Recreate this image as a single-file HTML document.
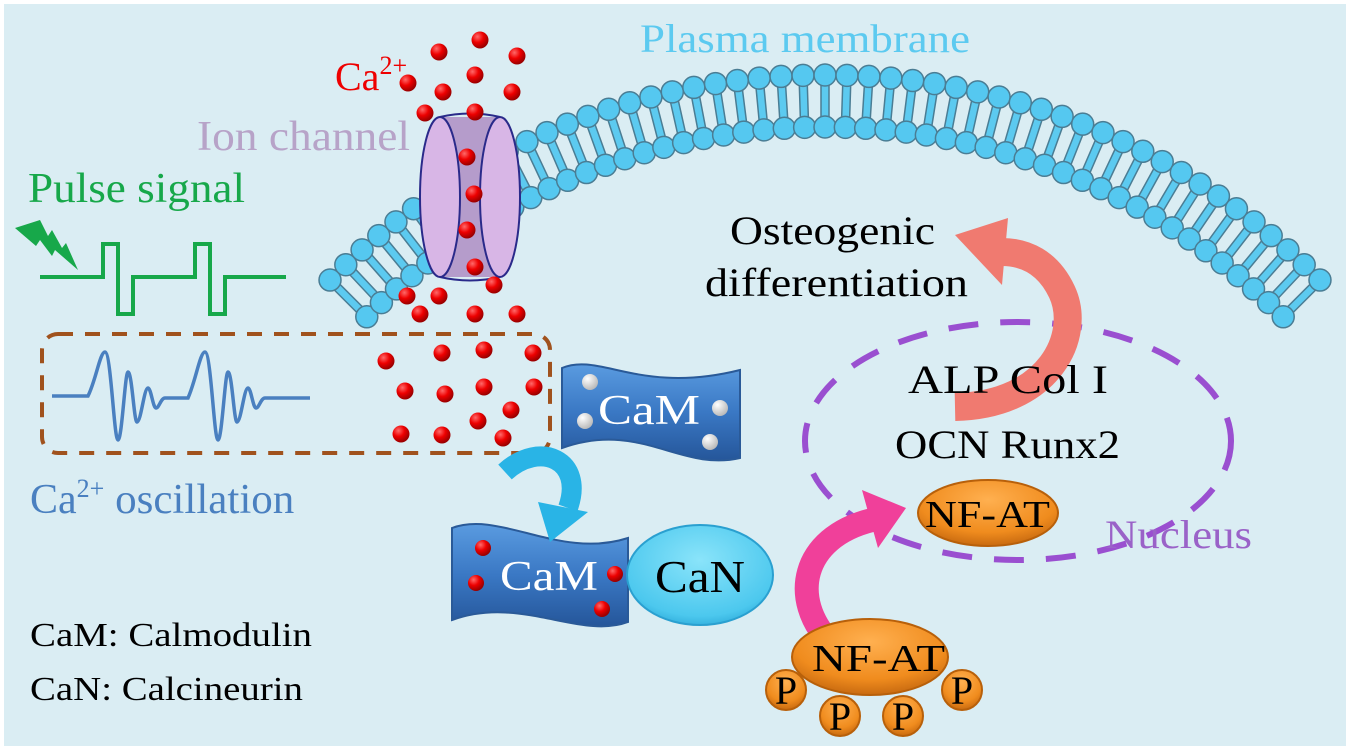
<!DOCTYPE html>
<html><head><meta charset="utf-8"><style>
html,body{margin:0;padding:0;background:#fff;}
svg{display:block;}
text{font-family:"Liberation Serif",serif;}
</style></head><body>
<svg id="s" width="1350" height="751" viewBox="0 0 1350 751" xmlns="http://www.w3.org/2000/svg">
<defs>
<radialGradient id="rd" cx="0.35" cy="0.3" r="0.7"><stop offset="0" stop-color="#ff6a6a"/><stop offset="0.5" stop-color="#e00"/><stop offset="1" stop-color="#900"/></radialGradient>
<radialGradient id="wd" cx="0.35" cy="0.3" r="0.7"><stop offset="0" stop-color="#fff"/><stop offset="1" stop-color="#bbb"/></radialGradient>
<radialGradient id="og" cx="0.5" cy="0.3" r="0.7"><stop offset="0" stop-color="#ffb050"/><stop offset="0.7" stop-color="#f08c1e"/><stop offset="1" stop-color="#c86a10"/></radialGradient>
<radialGradient id="cn" cx="0.5" cy="0.35" r="0.7"><stop offset="0" stop-color="#8ae4fa"/><stop offset="0.8" stop-color="#4cc8ee"/><stop offset="1" stop-color="#2aa8d8"/></radialGradient>
<linearGradient id="bl" x1="0" y1="0" x2="0" y2="1"><stop offset="0" stop-color="#5a9be0"/><stop offset="0.5" stop-color="#3a78c4"/><stop offset="1" stop-color="#25569a"/></linearGradient>
</defs>
<rect x="4" y="4" width="1342" height="742" fill="#daedf3"/>
<g id="mem"></g>

<!-- ion channel -->
<path d="M440,117 L500,117 L500,277 L440,277 Z" fill="#b59ccb"/>
<ellipse cx="440" cy="197" rx="20" ry="80" fill="#d8b6e6" stroke="#2a2a8a" stroke-width="2"/>
<path d="M440,117 Q470,110 500,117" fill="none" stroke="#2a2a8a" stroke-width="2"/>
<path d="M440,277 Q470,284 500,277" fill="none" stroke="#2a2a8a" stroke-width="2"/>
<ellipse cx="500" cy="197" rx="20" ry="80" fill="#d8b6e6" stroke="#2a2a8a" stroke-width="2"/>
<g id="dots"></g>

<!-- pulse -->
<path d="M40,277 H103 V244 H118 V314 H133 V277 H195 V244 H210 V314 H225 V277 H286" fill="none" stroke="#17a84a" stroke-width="4"/>
<polygon points="15,228 40,220 48,236 52,230 62,248 66,243 78,270 55,250 52,256 40,240 36,246" fill="#17a84a"/>
<!-- oscillation box -->
<rect x="42" y="334" width="508" height="119" rx="16" fill="none" stroke="#a0521d" stroke-width="4" stroke-dasharray="15 12"/>
<path d="M52,396 H88 C96,380 100,352 105,352 C111,352 114,440 118,440 C122,440 125,372 128,372 C132,372 134,422 137,422 C141,422 144,388 148,388 C151,388 153,408 156,408 C159,408 161,398 165,398 H188 C196,380 200,352 205,352 C211,352 214,440 218,440 C222,440 225,372 228,372 C232,372 234,422 237,422 C241,422 244,388 248,388 C251,388 253,408 256,408 C259,408 261,398 265,398 H310" fill="none" stroke="#4a80c0" stroke-width="3.5"/>

<!-- nucleus -->
<ellipse cx="1018" cy="441" rx="213" ry="119" fill="none" stroke="#9a4fd0" stroke-width="6" stroke-dasharray="30 22"/>

<!-- salmon arrow -->
<path d="M955,407 C1050,405 1082,335 1062,292 C1048,262 1025,252 1002,252" fill="none" stroke="#f07a70" stroke-width="28"/>
<polygon points="955,235 1008,218 1002,285" fill="#f07a70"/>

<!-- CaM flags -->
<path d="M562,368 C600,352 640,395 740,370 L740,458 C680,472 640,420 562,448 Z" fill="url(#bl)" stroke="#2a5a98" stroke-width="2"/>
<path d="M452,528 C500,510 560,560 628,538 L628,622 C580,640 520,595 452,620 Z" fill="url(#bl)" stroke="#2a5a98" stroke-width="2"/>
<!-- blue arrow -->
<path d="M505,472 C540,440 585,460 568,508" fill="none" stroke="#29b4e6" stroke-width="20"/>
<polygon points="550,542 538,502 588,512" fill="#29b4e6"/>
<!-- CaN -->
<ellipse cx="700" cy="575" rx="73" ry="50" fill="url(#cn)" stroke="#2aa0d0" stroke-width="2"/>
<!-- magenta arrow -->
<path d="M830,642 C790,600 800,538 872,520" fill="none" stroke="#f0409a" stroke-width="24"/>
<polygon points="906,508 862,490 878,548" fill="#f0409a"/>
<!-- NF-AT -->
<ellipse cx="988" cy="513" rx="70" ry="33" fill="url(#og)" stroke="#b8600a" stroke-width="2"/>
<ellipse cx="870" cy="657" rx="78" ry="38" fill="url(#og)" stroke="#b8600a" stroke-width="2"/>
<g fill="url(#og)" stroke="#b8600a" stroke-width="2">
<circle cx="786" cy="690" r="20"/><circle cx="840" cy="716" r="20"/><circle cx="903" cy="716" r="20"/><circle cx="962" cy="690" r="20"/>
</g>
<g font-size="40" fill="#000" text-anchor="middle">
<text x="786" y="704">P</text><text x="840" y="730">P</text><text x="903" y="730">P</text><text x="962" y="704">P</text>
</g>

<g fill="url(#wd)"><circle cx="590" cy="382" r="8"/><circle cx="585" cy="421" r="8"/><circle cx="720" cy="408" r="8"/><circle cx="710" cy="442" r="8"/></g>
<g fill="url(#rd)"><circle cx="483" cy="548" r="8"/><circle cx="476" cy="583" r="8"/><circle cx="615" cy="574" r="8"/><circle cx="602" cy="609" r="8"/></g>

<!-- text -->
<text x="640" y="52" font-size="40" fill="#5ccaf0" textLength="330" lengthAdjust="spacingAndGlyphs">Plasma membrane</text>
<text x="335" y="90" font-size="40" fill="#e00">Ca<tspan font-size="26" dy="-16">2+</tspan></text>
<text x="197" y="150" font-size="42" fill="#b7a3c8" textLength="213" lengthAdjust="spacingAndGlyphs">Ion channel</text>
<text x="28" y="202" font-size="42" fill="#17a84a" textLength="217" lengthAdjust="spacingAndGlyphs">Pulse signal</text>
<text x="30" y="513" font-size="42" fill="#4a80c0">Ca<tspan font-size="26" dy="-16">2+</tspan><tspan dy="16" textLength="190" lengthAdjust="spacingAndGlyphs"> oscillation</tspan></text>
<text x="30" y="646" font-size="34" fill="#000" textLength="282" lengthAdjust="spacingAndGlyphs">CaM: Calmodulin</text>
<text x="30" y="700" font-size="34" fill="#000" textLength="273" lengthAdjust="spacingAndGlyphs">CaN: Calcineurin</text>
<text x="730" y="244" font-size="40" fill="#000" textLength="205" lengthAdjust="spacingAndGlyphs">Osteogenic</text>
<text x="705" y="296" font-size="40" fill="#000" textLength="263" lengthAdjust="spacingAndGlyphs">differentiation</text>
<text x="908" y="393" font-size="40" fill="#000" textLength="200" lengthAdjust="spacingAndGlyphs">ALP  Col I</text>
<text x="895" y="458" font-size="40" fill="#000" textLength="225" lengthAdjust="spacingAndGlyphs">OCN Runx2</text>
<text x="1105" y="548" font-size="40" fill="#9a62c8" textLength="147" lengthAdjust="spacingAndGlyphs">Nucleus</text>
<text x="598" y="424" font-size="42" fill="#fff" textLength="102" lengthAdjust="spacingAndGlyphs">CaM</text>
<text x="500" y="590" font-size="42" fill="#fff" textLength="98" lengthAdjust="spacingAndGlyphs">CaM</text>
<text x="655" y="592" font-size="46" fill="#000" textLength="90" lengthAdjust="spacingAndGlyphs">CaN</text>
<text x="925" y="527" font-size="38" fill="#000" textLength="125" lengthAdjust="spacingAndGlyphs">NF-AT</text>
<text x="812" y="671" font-size="38" fill="#000" textLength="133" lengthAdjust="spacingAndGlyphs">NF-AT</text>
</svg>
<script>
var mem=document.getElementById("mem"),h="";
var cx=825,cy=775,R1=700,R2=648;
for(var a=-45;a<=46.01;a+=1.8){
 var t=a*Math.PI/180,s=Math.sin(t),c=Math.cos(t);
 var x1=cx+R1*s,y1=cy-R1*c,x2=cx+R2*s,y2=cy-R2*c;
 var px=c*4,py=s*4;
 h+='<polygon points="'+(x1-px)+','+(y1-py)+' '+(x1+px)+','+(y1+py)+' '+(x2+px)+','+(y2+py)+' '+(x2-px)+','+(y2-py)+'" fill="#5ccaf0" stroke="#4a7d94" stroke-width="1.5"/>';
 h+='<circle cx="'+x1+'" cy="'+y1+'" r="11" fill="#55c8f0" stroke="#4a7d94" stroke-width="1.5"/>';
 h+='<circle cx="'+x2+'" cy="'+y2+'" r="11" fill="#55c8f0" stroke="#4a7d94" stroke-width="1.5"/>';
}
mem.innerHTML=h;
var d=[[439,52],[480,40],[517,56],[408,83],[443,92],[475,75],[512,92],[425,113],[475,112],[467,157],[474,194],[467,230],[475,267],[407,296],[439,296],[494,285],[420,314],[475,314],[517,314],[386,361],[442,353],[484,350],[533,353],[405,391],[445,394],[484,387],[534,387],[511,410],[478,421],[401,434],[442,435],[503,438]];
var g="";d.forEach(function(p){g+='<circle cx="'+p[0]+'" cy="'+p[1]+'" r="8.5" fill="url(#rd)"/>';});
document.getElementById("dots").innerHTML=g;
</script>
</body></html>
